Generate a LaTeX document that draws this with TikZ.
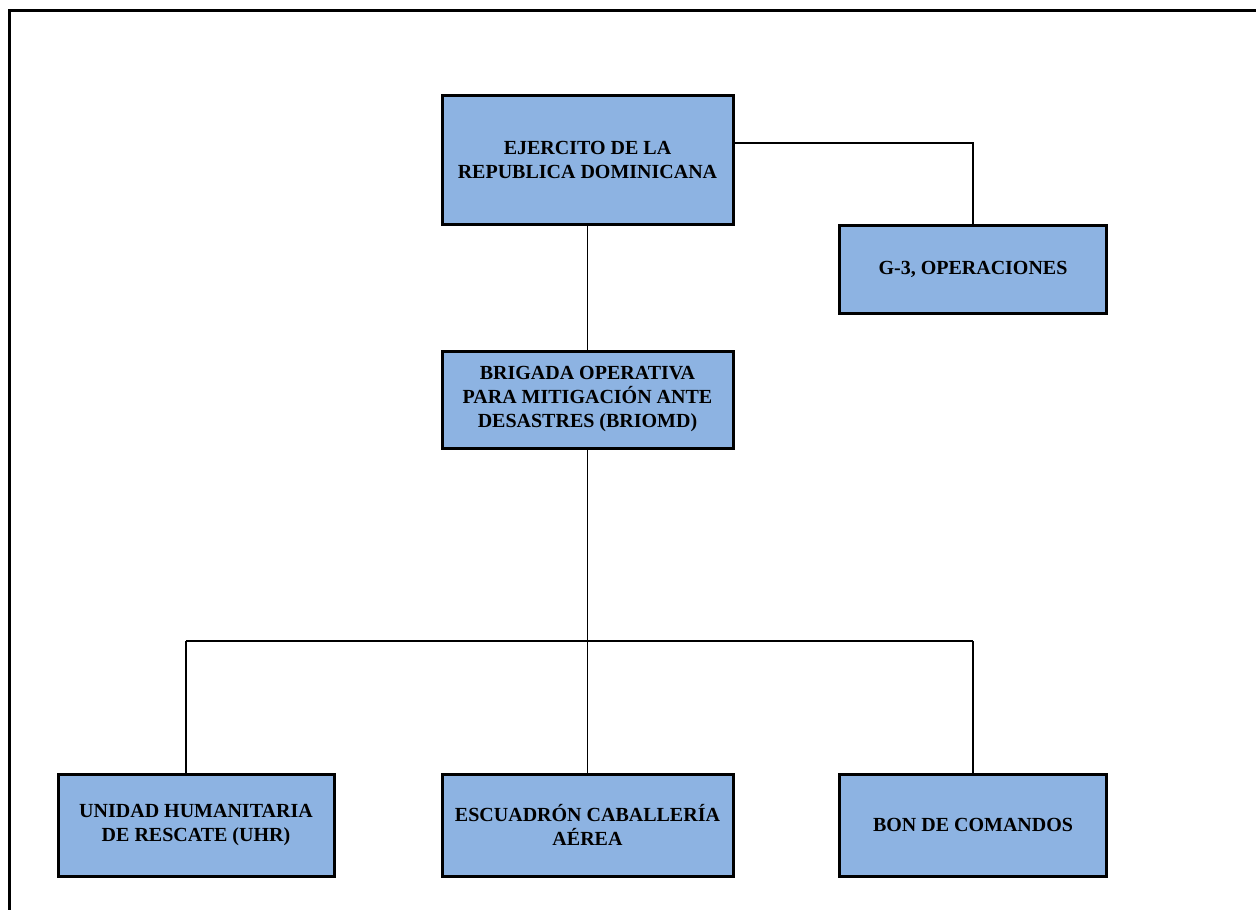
\documentclass[tikz,border=0pt]{standalone}
\usepackage{fontspec}
\setmainfont{Liberation Serif}
\definecolor{boxblue}{HTML}{8DB3E2}
\begin{document}
\begin{tikzpicture}[x=1pt,y=-1pt,
  unit/.style={draw=black,line width=3pt,fill=boxblue,align=center,inner sep=0pt,
    font=\fontsize{20}{24}\selectfont\bfseries},
  link/.style={line width=1.6pt,draw=black}]
\useasboundingbox (0,0) rectangle (1256,910);
\draw[line width=3pt] (9.5,910) -- (9.5,10.5) -- (1256,10.5);
\node[unit,minimum width=291pt,minimum height=129pt] (ejer) at (587.5,160) {EJERCITO DE LA\\REPUBLICA DOMINICANA};
\node[unit,minimum width=267pt,minimum height=88pt] (g3) at (973,269) {G-3, OPERACIONES};
\node[unit,minimum width=291pt,minimum height=97pt] (brig) at (587.5,399.5) {BRIGADA OPERATIVA\\PARA MITIGACI\'ON ANTE\\DESASTRES (BRIOMD)};
\node[unit,minimum width=276pt,minimum height=102pt] (uhr) at (196,825) {UNIDAD HUMANITARIA\\DE RESCATE (UHR)};
\node[unit,minimum width=291pt,minimum height=102pt] (esc) at (587.5,825) {ESCUADR\'ON CABALLER\'IA\\A\'EREA};
\node[unit,minimum width=267pt,minimum height=102pt] (bon) at (973,825) {BON DE COMANDOS};
\coordinate (bus) at (587.5,641);
\draw[link] (ejer.east |- 0,143) -| (g3.north);
\draw[link] (ejer.south) -- (brig.north);
\draw[link] (brig.south) -- (bus);
\draw[link] (bus -| 186,0) -- (bus -| g3.north);
\draw[link] (bus -| 186,0) -- (uhr.north -| 186,0);
\draw[link] (bus) -- (esc.north);
\draw[link] (bus -| bon.north) -- (bon.north);
\end{tikzpicture}
\end{document}
